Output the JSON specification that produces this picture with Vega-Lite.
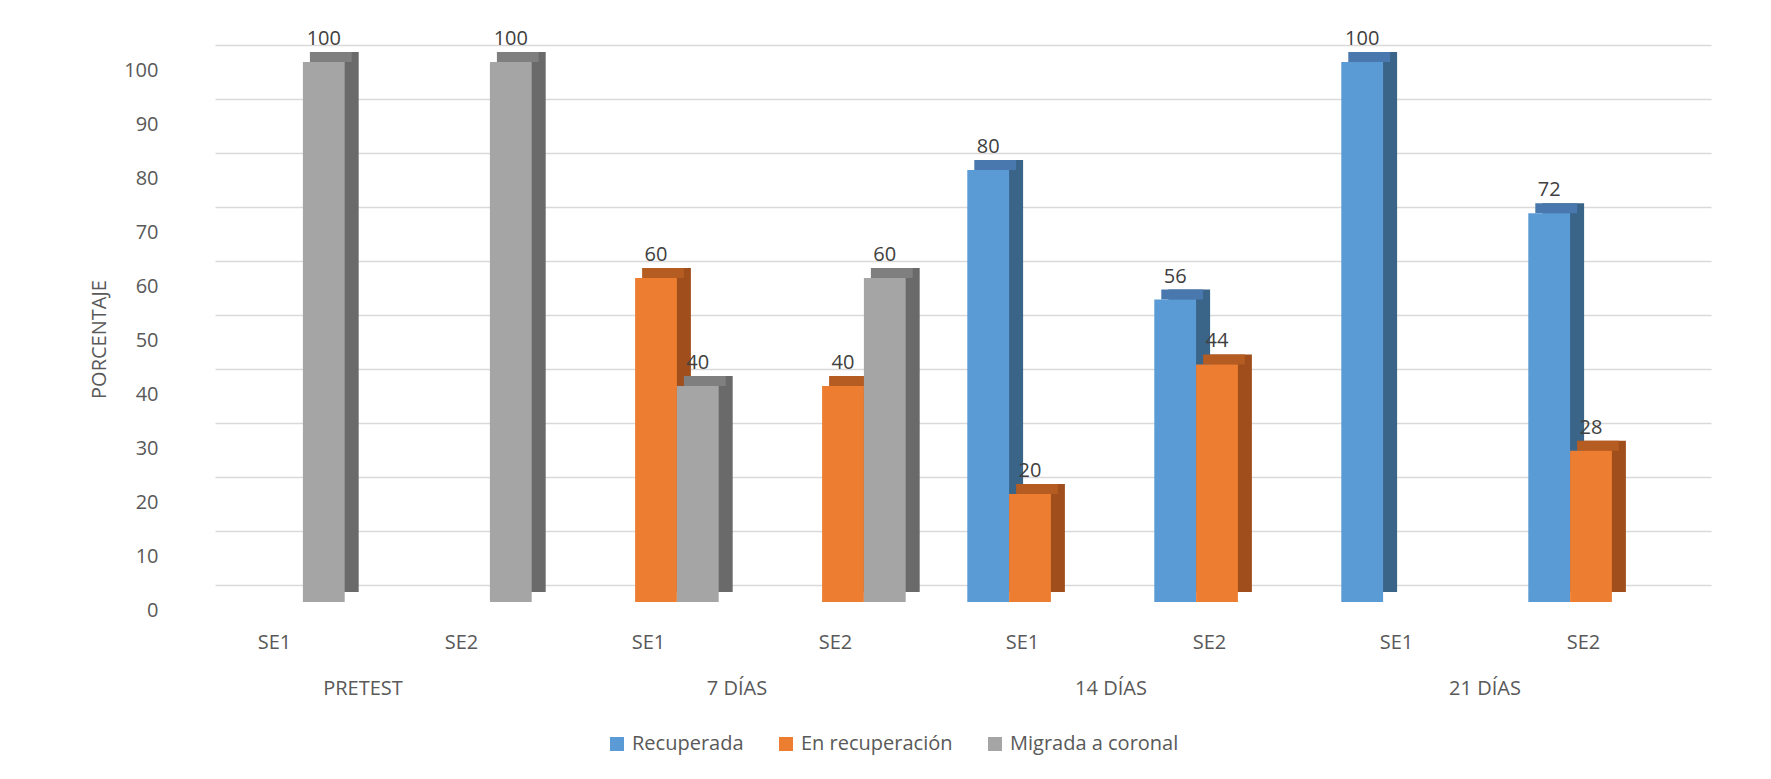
{
  "$schema": "https://vega.github.io/schema/vega-lite/v6.json",
  "width": 1496,
  "height": 540,
  "autosize": {"type": "none"},
  "padding": {"left": 215, "top": 45, "right": 60, "bottom": 194},
  "background": "white",
  "config": {
    "font": "Open Sans",
    "view": {"stroke": null},
    "axis": {"labelFont": "Open Sans", "titleFont": "Open Sans", "labelColor": "#595959", "titleColor": "#595959"},
    "legend": {"labelFont": "Open Sans"}
  },
  "data": {
    "values": [
      {"periodo": "PRETEST", "cat": "PRETEST|SE1", "serie": "Migrada a coronal", "valor": 100},
      {"periodo": "PRETEST", "cat": "PRETEST|SE2", "serie": "Migrada a coronal", "valor": 100},
      {"periodo": "7 DÍAS", "cat": "7 DÍAS|SE1", "serie": "En recuperación", "valor": 60},
      {"periodo": "7 DÍAS", "cat": "7 DÍAS|SE1", "serie": "Migrada a coronal", "valor": 40},
      {"periodo": "7 DÍAS", "cat": "7 DÍAS|SE2", "serie": "En recuperación", "valor": 40},
      {"periodo": "7 DÍAS", "cat": "7 DÍAS|SE2", "serie": "Migrada a coronal", "valor": 60},
      {"periodo": "14 DÍAS", "cat": "14 DÍAS|SE1", "serie": "Recuperada", "valor": 80},
      {"periodo": "14 DÍAS", "cat": "14 DÍAS|SE1", "serie": "En recuperación", "valor": 20},
      {"periodo": "14 DÍAS", "cat": "14 DÍAS|SE2", "serie": "Recuperada", "valor": 56},
      {"periodo": "14 DÍAS", "cat": "14 DÍAS|SE2", "serie": "En recuperación", "valor": 44},
      {"periodo": "21 DÍAS", "cat": "21 DÍAS|SE1", "serie": "Recuperada", "valor": 100},
      {"periodo": "21 DÍAS", "cat": "21 DÍAS|SE2", "serie": "Recuperada", "valor": 72},
      {"periodo": "21 DÍAS", "cat": "21 DÍAS|SE2", "serie": "En recuperación", "valor": 28}
    ]
  },
  "layer": [
    {
      "encoding": {
        "x": {
          "field": "cat", "type": "nominal",
          "sort": ["PRETEST|SE1", "PRETEST|SE2", "7 DÍAS|SE1", "7 DÍAS|SE2", "14 DÍAS|SE1", "14 DÍAS|SE2", "21 DÍAS|SE1", "21 DÍAS|SE2"],
          "scale": {"paddingInner": 0.3294, "paddingOuter": 0.1647},
          "axis": {"title": null, "labelExpr": "split(datum.label, '|')[1]", "domain": false, "ticks": false, "grid": false, "labelPadding": 47, "labelOffset": -34, "labelFontSize": 20, "labelAngle": 0}
        },
        "y": {
          "field": "valor", "type": "quantitative",
          "scale": {"domain": [0, 100], "nice": false},
          "axis": {"title": "PORCENTAJE", "values": [0, 10, 20, 30, 40, 50, 60, 70, 80, 90, 100], "grid": true, "gridColor": "#d9d9d9", "gridWidth": 1.5, "domain": false, "ticks": false, "labelPadding": 57, "labelOffset": 25, "labelFontSize": 20, "titleFontSize": 20, "titleFontWeight": "normal", "titleX": -116, "titleY": 294, "titleAngle": 270, "titleAlign": "center", "titleBaseline": "middle"}
        }
      },
      "layer": [
        {
          "mark": {"type": "bar", "yOffset": 7, "y2Offset": 7},
          "encoding": {
            "xOffset": {"field": "serie", "sort": ["Recuperada", "En recuperación", "Migrada a coronal"], "scale": {"domain": ["Recuperada", "En recuperación", "Migrada a coronal"], "range": [-12.5, 112.9]}},
            "color": {"field": "serie", "scale": {"domain": ["Recuperada", "En recuperación", "Migrada a coronal"], "range": ["#3a6488", "#a04f1c", "#6a6a6a"]}, "legend": null}
          }
        },
        {
          "mark": {"type": "bar", "yOffset": 7, "y2Offset": 17},
          "encoding": {
            "y2": {"field": "valor"},
            "xOffset": {"field": "serie", "sort": ["Recuperada", "En recuperación", "Migrada a coronal"], "scale": {"domain": ["Recuperada", "En recuperación", "Migrada a coronal"], "range": [-19.5, 105.9]}},
            "color": {"field": "serie", "scale": {"domain": ["Recuperada", "En recuperación", "Migrada a coronal"], "range": ["#4878ad", "#b45c22", "#7f7f7f"]}, "legend": null}
          }
        },
        {
          "mark": {"type": "bar", "yOffset": 17, "y2Offset": 17},
          "encoding": {
            "xOffset": {"field": "serie", "sort": ["Recuperada", "En recuperación", "Migrada a coronal"], "scale": {"domain": ["Recuperada", "En recuperación", "Migrada a coronal"], "range": [-26.5, 98.9]}},
            "color": {
              "field": "serie",
              "scale": {"domain": ["Recuperada", "En recuperación", "Migrada a coronal"], "range": ["#5b9bd5", "#ed7d31", "#a5a5a5"]},
              "legend": {"orient": "none", "legendX": 392, "legendY": 689, "direction": "horizontal", "title": null, "symbolType": "square", "symbolSize": 196, "symbolStrokeWidth": 0, "labelFontSize": 20, "labelColor": "#595959", "labelLimit": 0, "columnPadding": 32, "labelOffset": 5, "padding": 0}
            }
          }
        },
        {
          "mark": {"type": "text", "fontSize": 20, "color": "#404040", "baseline": "alphabetic", "dy": 0},
          "encoding": {
            "xOffset": {"field": "serie", "sort": ["Recuperada", "En recuperación", "Migrada a coronal"], "scale": {"domain": ["Recuperada", "En recuperación", "Migrada a coronal"], "range": [-26.5, 98.9]}},
            "text": {"field": "valor", "type": "quantitative"}
          }
        }
      ],
      "resolve": {"scale": {"xOffset": "independent", "color": "independent"}}
    },
    {
      "mark": {"type": "tick", "opacity": 0},
      "encoding": {
        "x": {
          "field": "periodo", "type": "nominal",
          "sort": ["PRETEST", "7 DÍAS", "14 DÍAS", "21 DÍAS"],
          "scale": {"type": "band", "paddingInner": 0, "paddingOuter": 0},
          "axis": {"orient": "bottom", "title": null, "domain": false, "ticks": false, "grid": false, "labelPadding": 93, "labelOffset": -39, "labelFontSize": 20, "labelAngle": 0}
        }
      }
    }
  ],
  "resolve": {"scale": {"x": "independent"}}
}
